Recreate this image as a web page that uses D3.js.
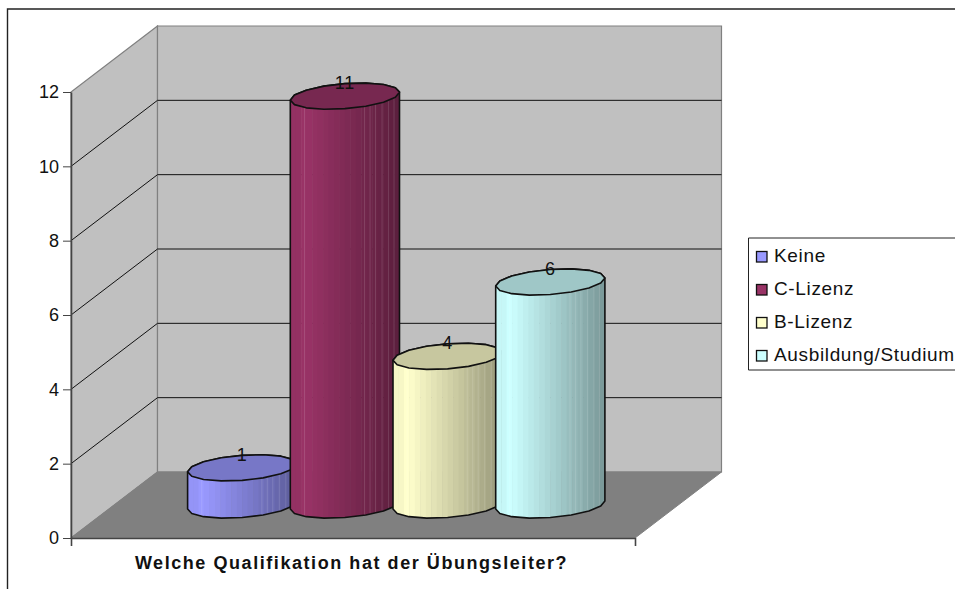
<!DOCTYPE html>
<html>
<head>
<meta charset="utf-8">
<script src="https://cdnjs.cloudflare.com/ajax/libs/d3/7.8.5/d3.min.js"></script>
<style>
  html, body { margin: 0; padding: 0; background: #fff; overflow: hidden; }
  text { font-family: "Liberation Sans", Arial, sans-serif; fill: #111; }
</style>
</head>
<body>
<svg id="chart" width="955" height="589"></svg>
<script>
const category = "Welche Qualifikation hat der Übungsleiter?";
const seriesNames = ["Keine", "C-Lizenz", "B-Lizenz", "Ausbildung/Studium"];
const seriesValues = [1, 11, 4, 6];
const seriesColors = ["#9999ff", "#993366", "#ffffcc", "#ccffff"];
const yTicks = [0, 2, 4, 6, 8, 10, 12];

let svg = d3.select("#chart");

/* plot box: front face + depth shift of the 3d box */
let plotL = 71, plotR = 635, plotT = 92, plotB = 538,
    depthX = 86.5, depthY = -66;

let yScale = d3.scaleLinear().domain([0, 12]).range([plotB, plotT]),
    xCat = d3.scaleBand().domain([category]).range([plotL, plotR]),
    xSeries = d3.scaleBand().domain(seriesNames).range([147.6, 558.4]);

let defs = svg.append("defs");

/* chart border, only top and left are in the picture */
svg.append("path")
    .attr("d", "M7.5,589V9H955")
    .attr("fill", "none")
    .attr("stroke", "#222")
    .attr("stroke-width", 1.4);

/* walls */
let wallLeft = [[plotL, plotB], [plotL, plotT], [plotL + depthX, plotT + depthY], [plotL + depthX, plotB + depthY]],
    wallBack = [[plotL + depthX, plotT + depthY], [plotR + depthX, plotT + depthY], [plotR + depthX, plotB + depthY], [plotL + depthX, plotB + depthY]],
    floor    = [[plotL, plotB], [plotL + depthX, plotB + depthY], [plotR + depthX, plotB + depthY], [plotR, plotB]];

let poly = (pts) => "M" + pts.join("L") + "Z";

svg.append("path").attr("d", poly(wallLeft)).attr("fill", "#c0c0c0").attr("stroke", "#808080").attr("stroke-width", 1.2);
svg.append("path").attr("d", poly(wallBack)).attr("fill", "#c0c0c0").attr("stroke", "#808080").attr("stroke-width", 1.2);
svg.append("path").attr("d", poly(floor)).attr("fill", "#808080").attr("stroke", "#808080");

/* grid lines, left wall then back wall */
svg.append("g").selectAll("path")
    .data(yTicks.filter((d) => d > 0 && d < 12))
    .enter()
    .append("path")
    .attr("fill", "none")
    .attr("stroke", "#111")
    .attr("stroke-width", 1)
    .attr("d", (d) => `M${plotL},${yScale(d)}L${plotL + depthX},${yScale(d) + depthY}H${plotR + depthX}`);

/* axes */
let yAxis = d3.axisLeft(yScale).tickValues(yTicks).tickFormat(d3.format("d")).tickSizeInner(8).tickSizeOuter(0).tickPadding(4);
let xAxis = d3.axisBottom(xCat).tickSizeInner(0).tickSizeOuter(8).tickPadding(18);

let gy = svg.append("g").attr("transform", `translate(${plotL},0)`).call(yAxis);
gy.selectAll("text").attr("font-size", 18).style("font-family", '"Liberation Sans", Arial, sans-serif');
gy.selectAll("line").attr("stroke", "#444");
gy.select(".domain").attr("stroke", "#444").attr("stroke-width", 1.6);

let gx = svg.append("g").attr("transform", `translate(0,${plotB})`).call(xAxis);
gx.select(".domain").attr("stroke", "#444").attr("stroke-width", 1.6);
gx.selectAll("text")
    .attr("font-size", 18)
    .attr("font-weight", "bold")
    .attr("letter-spacing", 1.56)
    .attr("dx", -1.5)
    .style("font-family", '"Liberation Sans", Arial, sans-serif');

/* cylinders */
let rx = 54.6, ry = 12.5, skew = 4, nBands = 20, nSides = 8;
let seams = [0.13, 0.68, 0.73, 0.78, 0.84, 0.9, 0.95];

/* point on the tilted ellipse */
let rim = (cx, cy, a) => [
    cx + rx * Math.cos(a),
    cy + ry * Math.sin(a) - skew * Math.cos(a)
];
let halfRim = (cx, cy, from, to) => d3.range(nSides + 1).map((i) => rim(cx, cy, from + (to - from) * i / nSides));

/* shading across the cylinder: brightest a bit off the left edge */
let shade = (t) => t < 0.06 ? 0.97 : t < 0.12 ? 1 : 1 - 0.42 * (t - 0.12) / 0.88;
let darken = (col, k) => {
    let c = d3.rgb(col);
    return d3.rgb(c.r * k, c.g * k, c.b * k).formatHex();
};

seriesNames.forEach(function(name, i){
    let cx = xSeries(name) + xSeries.bandwidth() / 2 + depthX / 2,
        yTop = yScale(seriesValues[i]) + depthY / 2,
        yBase = yScale(0) + depthY / 2,
        g = svg.append("g").attr("class", "cylinder");

    let body = halfRim(cx, yBase, Math.PI, 0).concat(halfRim(cx, yTop, 0, -Math.PI));

    defs.append("clipPath").attr("id", `clip${i}`).append("path").attr("d", poly(body));

    let bandScale = d3.scaleBand().domain(d3.range(nBands)).range([cx - rx, cx + rx]);

    let inner = g.append("g").attr("clip-path", `url(#clip${i})`);

    inner.selectAll("rect")
        .data(d3.range(nBands))
        .enter()
        .append("rect")
        .attr("x", (d) => bandScale(d))
        .attr("y", yTop - ry - skew)
        .attr("width", bandScale.bandwidth() + 0.5)
        .attr("height", yBase - yTop + 2 * (ry + skew))
        .attr("fill", (d) => darken(seriesColors[i], shade(d / nBands)));

    /* thin light seams between the facets */
    inner.selectAll("line")
        .data(seams)
        .enter()
        .append("line")
        .attr("x1", (d) => cx - rx + d * 2 * rx)
        .attr("x2", (d) => cx - rx + d * 2 * rx)
        .attr("y1", yTop - ry - skew)
        .attr("y2", yBase + ry + skew)
        .attr("stroke", "#fff")
        .attr("stroke-opacity", 0.13)
        .attr("stroke-width", 1);

    g.append("path")
        .attr("d", poly(body))
        .attr("fill", "none")
        .attr("stroke", "#111")
        .attr("stroke-width", 1.6)
        .attr("stroke-linejoin", "round");

    g.append("path")
        .attr("d", poly(halfRim(cx, yTop, 0, -Math.PI).concat(halfRim(cx, yTop, Math.PI, 0))))
        .attr("fill", darken(seriesColors[i], 0.78))
        .attr("stroke", "#111")
        .attr("stroke-width", 1.6)
        .attr("stroke-linejoin", "round");
});

/* value labels sit on the back rim of the top, above all cylinders */
svg.append("g").selectAll("text")
    .data(seriesNames)
    .enter()
    .append("text")
    .attr("x", (d) => xSeries(d) + xSeries.bandwidth() / 2 + depthX / 2)
    .attr("y", (d, i) => yScale(seriesValues[i]) + depthY / 2 - 7)
    .attr("text-anchor", "middle")
    .attr("font-size", 18)
    .attr("letter-spacing", 0.8)
    .text((d, i) => seriesValues[i]);

/* legend, runs off the right side of the picture */
let legendRows = d3.scalePoint().domain(seriesNames).range([256.5, 355.5]);

svg.append("path")
    .attr("d", "M955,238H748.5V370H955")
    .attr("fill", "#fff")
    .attr("stroke", "#222")
    .attr("stroke-width", 1);

let legend = svg.append("g").selectAll("g")
    .data(seriesNames)
    .enter()
    .append("g")
    .attr("transform", (d) => `translate(0,${legendRows(d)})`);

legend.append("rect")
    .attr("x", 756.5)
    .attr("y", -5)
    .attr("width", 10.5)
    .attr("height", 10.5)
    .attr("fill", (d, i) => seriesColors[i])
    .attr("stroke", "#111")
    .attr("stroke-width", 1.3);

legend.append("text")
    .attr("x", 774)
    .attr("y", 5.5)
    .attr("font-size", 19)
    .attr("letter-spacing", 0.65)
    .text((d) => d);
</script>
</body>
</html>
